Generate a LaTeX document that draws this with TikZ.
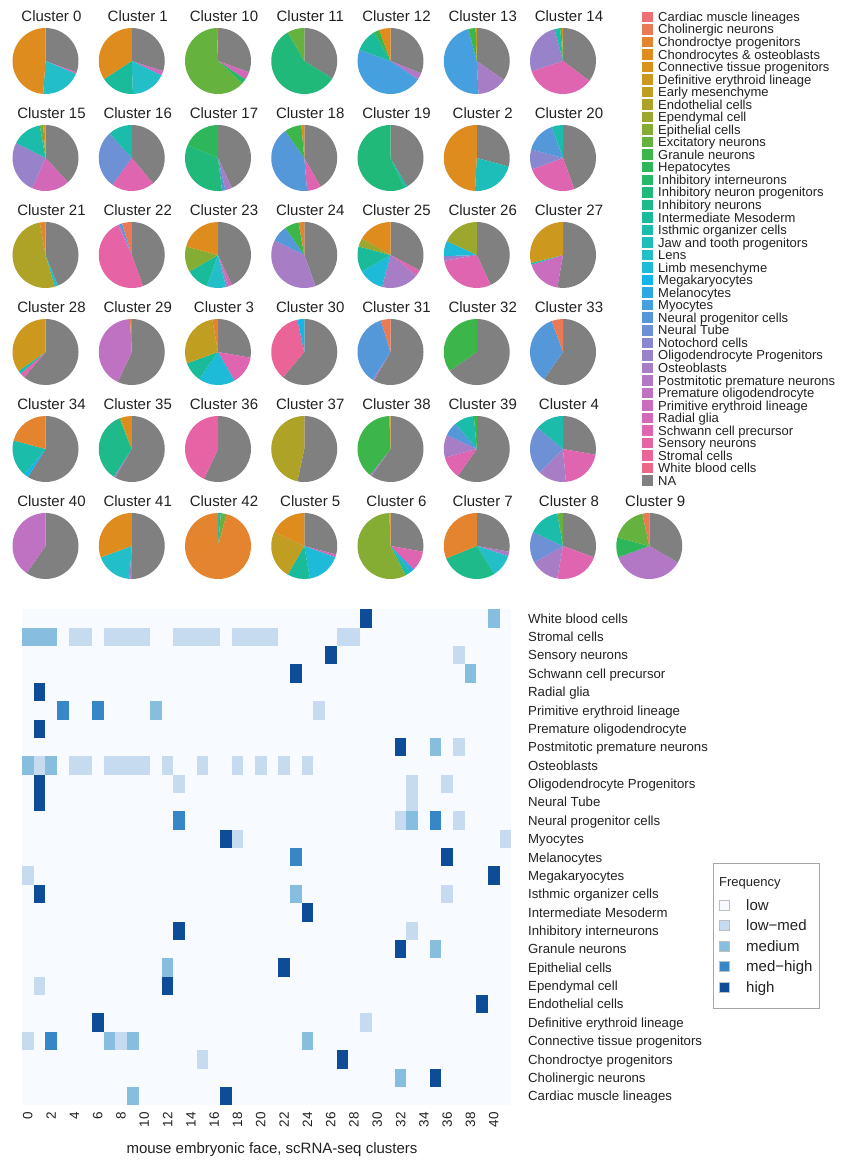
\documentclass[tikz,border=0pt]{standalone}
\usepackage{fontspec}
\setmainfont{Liberation Sans}

\definecolor{ct0}{HTML}{EE7070}
\definecolor{ct1}{HTML}{EA7A55}
\definecolor{ct2}{HTML}{E5842E}
\definecolor{ct3}{HTML}{DF8C1E}
\definecolor{ct4}{HTML}{D8921A}
\definecolor{ct5}{HTML}{CD981E}
\definecolor{ct6}{HTML}{BF9E22}
\definecolor{ct7}{HTML}{AFA327}
\definecolor{ct8}{HTML}{9CA82D}
\definecolor{ct9}{HTML}{85AD33}
\definecolor{ct10}{HTML}{66B23E}
\definecolor{ct11}{HTML}{3CB54A}
\definecolor{ct12}{HTML}{2DB65A}
\definecolor{ct13}{HTML}{28B86A}
\definecolor{ct14}{HTML}{20B97A}
\definecolor{ct15}{HTML}{1EBA8A}
\definecolor{ct16}{HTML}{1ABB9A}
\definecolor{ct17}{HTML}{1BBCAA}
\definecolor{ct18}{HTML}{1DBEB9}
\definecolor{ct19}{HTML}{22BFC8}
\definecolor{ct20}{HTML}{1DBBD8}
\definecolor{ct21}{HTML}{14B5E8}
\definecolor{ct22}{HTML}{2EA8E3}
\definecolor{ct23}{HTML}{46A0E0}
\definecolor{ct24}{HTML}{5598DA}
\definecolor{ct25}{HTML}{6E90D4}
\definecolor{ct26}{HTML}{8788CF}
\definecolor{ct27}{HTML}{9882CA}
\definecolor{ct28}{HTML}{A77DC6}
\definecolor{ct29}{HTML}{B277C5}
\definecolor{ct30}{HTML}{C072C2}
\definecolor{ct31}{HTML}{CA6DBE}
\definecolor{ct32}{HTML}{D468B8}
\definecolor{ct33}{HTML}{DF65B0}
\definecolor{ct34}{HTML}{E663A5}
\definecolor{ct35}{HTML}{EA6497}
\definecolor{ct36}{HTML}{EC6787}
\definecolor{ct37}{HTML}{808080}
\colorlet{nagrey}{ct37}
\definecolor{lowc}{HTML}{F7FBFF}
\definecolor{lowmed}{HTML}{C6DBEF}
\definecolor{medium}{HTML}{87BDDF}
\definecolor{medhigh}{HTML}{3787C6}
\definecolor{high}{HTML}{0F4C97}
\definecolor{txt}{HTML}{222222}

\newcommand{\clusterpie}[4]{%
  \node[pietitle] (p#3) at ({#1+6},{#2-40}) {Cluster #3};
  \xdef\pieang{-90}%
  \foreach \pc/\pw in {#4}{%
    \pgfmathsetmacro\pieend{\pieang+\pw}%
    \fill[\pc] (#1,#2) -- ++(\pieang:33) arc[start angle=\pieang, end angle=\pieend, radius=33] -- cycle;
    \xdef\pieang{\pieend}%
  }%
}

\begin{document}
\begin{tikzpicture}[x=1pt,y=-1pt,
    pietitle/.style={anchor=base,text=txt,inner sep=0pt,font=\fontsize{15}{16}\selectfont},
    leglab/.style={anchor=base west,text=txt,inner sep=0pt,font=\fontsize{13}{13}\selectfont},
    rowlab/.style={anchor=base west,text=txt,inner sep=0pt,font=\fontsize{13.2}{14}\selectfont},
    ticklab/.style={anchor=east,rotate=90,text=txt,inner sep=0pt,font=\fontsize{13.5}{14}\selectfont},
    freqlab/.style={anchor=base west,text=txt,inner sep=0pt,font=\fontsize{15}{16}\selectfont}]
  \useasboundingbox (0,0) rectangle (842,1162);
  \fill[white] (0,0) rectangle (842,1162);

  \clusterpie{45.5}{61}{0}{nagrey/110, ct32/3, ct19/71, ct3/176}
  \clusterpie{131.75}{61}{1}{nagrey/108, ct31/8, ct19/62, ct16/59, ct3/123}
  \clusterpie{218}{61}{10}{nagrey/110, ct32/14, ct13/9, ct10/225, ct2/2}
  \clusterpie{304.25}{61}{11}{nagrey/122, ct14/208, ct10/30}
  \clusterpie{390.5}{61}{12}{nagrey/112, ct29/12, ct23/166, ct16/40, ct11/10, ct3/20}
  \clusterpie{476.75}{61}{13}{nagrey/125, ct28/52, ct23/168, ct11/13, ct6/2}
  \clusterpie{563}{61}{14}{nagrey/127, ct33/125, ct27/93, ct17/10, ct11/3, ct4/2}

  \clusterpie{45.5}{158}{15}{nagrey/137, ct32/67, ct27/93, ct17/53, ct10/6, ct3/4}
  \clusterpie{131.75}{158}{16}{nagrey/140, ct33/76, ct25/102, ct17/42}
  \clusterpie{218}{158}{17}{nagrey/155, ct28/12, ct24/6, ct14/120, ct12/67}
  \clusterpie{304.25}{158}{18}{nagrey/150, ct33/25, ct24/150, ct11/30, ct3/5}
  \clusterpie{390.5}{158}{19}{nagrey/150, ct17/5, ct14/205}
  \clusterpie{476.75}{158}{2}{nagrey/105, ct18/78, ct3/177}
  \clusterpie{563}{158}{20}{nagrey/160, ct33/90, ct26/35, ct24/55, ct17/20}

  \clusterpie{45.5}{255}{21}{nagrey/158, ct19/6, ct7/186, ct2/10}
  \clusterpie{131.75}{255}{22}{nagrey/160, ct34/175, ct29/3, ct24/5, ct1/17}
  \clusterpie{218}{255}{23}{nagrey/155, ct32/6, ct28/5, ct19/34, ct16/40, ct9/45, ct3/75}
  \clusterpie{304.25}{255}{24}{nagrey/160, ct28/136, ct24/29, ct11/25, ct2/10}
  \clusterpie{390.5}{255}{25}{nagrey/118, ct33/10, ct28/67, ct20/45, ct16/45, ct8/15, ct3/60}
  \clusterpie{476.75}{255}{26}{nagrey/155, ct33/105, ct27/8, ct20/27, ct8/65}
  \clusterpie{563}{255}{27}{nagrey/190, ct31/63, ct17/3, ct5/104}

  \clusterpie{45.5}{352}{28}{nagrey/220, ct33/9, ct17/6, ct5/125}
  \clusterpie{131.75}{352}{29}{nagrey/205, ct30/152, ct2/3}
  \clusterpie{218}{352}{3}{nagrey/100, ct33/50, ct20/65, ct16/35, ct6/100, ct2/10}
  \clusterpie{304.25}{352}{30}{nagrey/220, ct35/128, ct21/12}
  \clusterpie{390.5}{352}{31}{nagrey/210, ct28/3, ct24/130, ct1/17}
  \clusterpie{476.75}{352}{32}{nagrey/235, ct11/125}
  \clusterpie{563}{352}{33}{nagrey/215, ct24/125, ct1/20}

  \clusterpie{45.5}{449}{34}{nagrey/212, ct21/8, ct17/65, ct2/75}
  \clusterpie{131.75}{449}{35}{nagrey/210, ct28/3, ct15/125, ct10/2, ct3/20}
  \clusterpie{218}{449}{36}{nagrey/205, ct34/155}
  \clusterpie{304.25}{449}{37}{nagrey/192, ct7/168}
  \clusterpie{390.5}{449}{38}{nagrey/215, ct28/3, ct11/140, ct3/2}
  \clusterpie{476.75}{449}{39}{nagrey/215, ct33/40, ct28/40, ct24/25, ct17/35, ct11/5}
  \clusterpie{563}{449}{4}{nagrey/100, ct33/75, ct28/50, ct25/85, ct17/50}

  \clusterpie{45.5}{546}{40}{nagrey/215, ct30/145}
  \clusterpie{131.75}{546}{41}{nagrey/180, ct30/4, ct19/66, ct3/110}
  \clusterpie{218}{546}{42}{ct17/5, ct10/10, ct2/345}
  \clusterpie{304.25}{546}{5}{nagrey/105, ct32/5, ct20/60, ct16/40, ct6/85, ct3/65}
  \clusterpie{390.5}{546}{6}{nagrey/100, ct33/35, ct22/8, ct17/10, ct9/205, ct3/2}
  \clusterpie{476.75}{546}{7}{nagrey/100, ct28/8, ct19/40, ct15/100, ct2/112}
  \clusterpie{563}{546}{8}{nagrey/110, ct33/80, ct28/50, ct25/55, ct17/55, ct10/10}
  \clusterpie{649.25}{546}{9}{nagrey/120, ct29/130, ct12/35, ct10/63, ct1/12}

  \foreach \lab [count=\i from 0] in {Cardiac muscle lineages, Cholinergic neurons,
      Chondroctye progenitors, Chondrocytes \& osteoblasts, Connective tissue progenitors,
      Definitive erythroid lineage, Early mesenchyme, Endothelial cells, Ependymal cell,
      Epithelial cells, Excitatory neurons, Granule neurons, Hepatocytes,
      Inhibitory interneurons, Inhibitory neuron progenitors, Inhibitory neurons,
      Intermediate Mesoderm, Isthmic organizer cells, Jaw and tooth progenitors, Lens,
      Limb mesenchyme, Megakaryocytes, Melanocytes, Myocytes, Neural progenitor cells,
      Neural Tube, Notochord cells, Oligodendrocyte Progenitors, Osteoblasts,
      Postmitotic premature neurons, Premature oligodendrocyte, Primitive erythroid lineage,
      Radial glia, Schwann cell precursor, Sensory neurons, Stromal cells,
      White blood cells, NA}{
    \fill[ct\i] (642,{11.5+12.54*\i}) rectangle ++(10.5,10.5);
    \node[leglab] (lg\i) at (658,{21.4+12.54*\i}) {\lab};
  }

  \fill[lowc] (22,609.3) rectangle (511,1105.3);
  \foreach \c/\r/\lv in {29/0/high, 40/0/medium,
      0/1/medium, 1/1/medium, 2/1/medium, 4/1/lowmed, 5/1/lowmed, 7/1/lowmed, 8/1/lowmed,
      9/1/lowmed, 10/1/lowmed, 13/1/lowmed, 14/1/lowmed, 15/1/lowmed, 16/1/lowmed,
      18/1/lowmed, 19/1/lowmed, 20/1/lowmed, 21/1/lowmed, 27/1/lowmed, 28/1/lowmed,
      26/2/high, 37/2/lowmed,
      23/3/high, 38/3/medium,
      1/4/high,
      3/5/medhigh, 6/5/medhigh, 11/5/medium, 25/5/lowmed,
      1/6/high,
      32/7/high, 35/7/medium, 37/7/lowmed,
      0/8/medium, 1/8/lowmed, 2/8/medium, 4/8/lowmed, 5/8/lowmed, 7/8/lowmed, 8/8/lowmed,
      9/8/lowmed, 10/8/lowmed, 12/8/lowmed, 15/8/lowmed, 18/8/lowmed, 20/8/lowmed,
      22/8/lowmed, 24/8/lowmed,
      1/9/high, 13/9/lowmed, 33/9/lowmed, 36/9/lowmed,
      1/10/high, 33/10/lowmed,
      13/11/medhigh, 32/11/lowmed, 33/11/medium, 35/11/medhigh, 37/11/lowmed,
      17/12/high, 18/12/lowmed, 41/12/lowmed,
      23/13/medhigh, 36/13/high,
      0/14/lowmed, 40/14/high,
      1/15/high, 23/15/medium, 36/15/lowmed,
      24/16/high,
      13/17/high, 33/17/lowmed,
      32/18/high, 35/18/medium,
      12/19/medium, 22/19/high,
      1/20/lowmed, 12/20/high,
      39/21/high,
      6/22/high, 29/22/lowmed,
      0/23/lowmed, 2/23/medhigh, 7/23/medium, 8/23/lowmed, 9/23/medium, 24/23/medium,
      15/24/lowmed, 27/24/high,
      32/25/medium, 35/25/high,
      9/26/medium, 17/26/high}
    \fill[\lv] ({22+11.65*\c},{609.3+18.37*\r}) rectangle ++(11.65,18.37);

  \foreach \lab [count=\r from 0] in {White blood cells, Stromal cells, Sensory neurons,
      Schwann cell precursor, Radial glia, Primitive erythroid lineage,
      Premature oligodendrocyte, Postmitotic premature neurons, Osteoblasts,
      Oligodendrocyte Progenitors, Neural Tube, Neural progenitor cells, Myocytes,
      Melanocytes, Megakaryocytes, Isthmic organizer cells, Intermediate Mesoderm,
      Inhibitory interneurons, Granule neurons, Epithelial cells, Ependymal cell,
      Endothelial cells, Definitive erythroid lineage, Connective tissue progenitors,
      Chondroctye progenitors, Cholinergic neurons, Cardiac muscle lineages}
    \node[rowlab] (hr\r) at (528,{609.3+18.37*\r+13.9}) {\lab};

  \foreach \t in {0,2,...,40}
    \node[ticklab] (tk\t) at ({22+11.65*\t+5.8},1112) {\t};
  \node[text=txt,font=\fontsize{15}{16}\selectfont] (xtitle) at (272,1150) {mouse embryonic face, scRNA-seq clusters};

  \draw[gray!70,line width=0.6pt] (713,863) rectangle (819,1008);
  \node[leglab] (frq) at (719,886.7) {Frequency};
  \foreach \lv/\lab [count=\i from 0] in {lowc/low, lowmed/low−med, medium/medium,
      medhigh/med−high, high/high}{
    \filldraw[fill=\lv,draw=gray!50,line width=0.4pt] (719.5,{900+20.5*\i}) rectangle ++(10,10);
    \node[freqlab] (fq\i) at (746,{910.4+20.5*\i}) {\lab};
  }
\end{tikzpicture}
\end{document}
